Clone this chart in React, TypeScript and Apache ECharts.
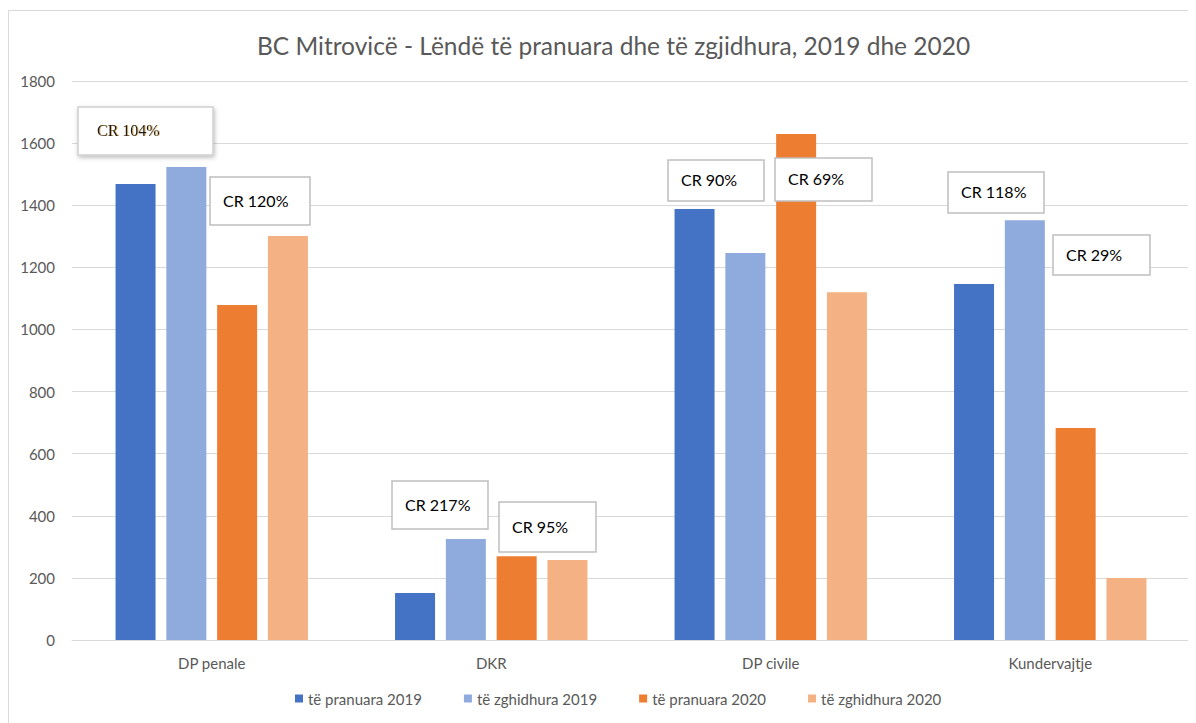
import React, { useEffect, useRef } from "react";
import * as echarts from "echarts";

const categories = ["DP penale", "DKR", "DP civile", "Kundervajtje"];
const seriesNames = ["të pranuara 2019", "të zghidhura 2019", "të pranuara 2020", "të zghidhura 2020"];
const pranuara2019 = [1468, 151, 1388, 1146];
const zgjidhura2019 = [1523, 325, 1246, 1352];
const pranuara2020 = [1079, 270, 1629, 683];
const zgjidhura2020 = [1301, 258, 1120, 200];
const colors = ["#4472C4", "#8FAADC", "#ED7D31", "#F4B183"];
const yTicks = { min: 0, max: 1800, interval: 200 };

// annotation boxes: [text, x, y, w, h] (page coordinates)
const crLabels: [string, number, number, number, number][] = [
  ["CR 120%", 210, 177, 100, 48],
  ["CR 217%", 392, 481, 96, 48],
  ["CR 95%", 499, 502, 97, 50],
  ["CR 90%", 668, 160, 96, 41],
  ["CR 69%", 775, 158, 97, 43],
  ["CR 118%", 948, 172, 96, 41],
  ["CR 29%", 1053, 235, 97, 40],
];

export default function App() {
  const ref = useRef<HTMLDivElement>(null);
  useEffect(() => {
    if (!ref.current) return;
    const chart = echarts.init(ref.current, undefined, { renderer: "svg" });
    const font = "Lato, 'Open Sans', sans-serif";
    const allData = [pranuara2019, zgjidhura2019, pranuara2020, zgjidhura2020];
    const off = 8;
    const graphics: any[] = [
      {
        type: "rect",
        shape: { x: 0.5, y: 2.5, width: 1200, height: 800 },
        style: { fill: "none", stroke: "#d9d9d9", lineWidth: 1 },
        silent: true,
        z: -1,
      },
      {
        type: "rect",
        shape: { x: 78 - off, y: 107 - off, width: 135, height: 48 },
        style: {
          fill: "#ffffff",
          stroke: "#d0d0d0",
          lineWidth: 1.5,
          shadowBlur: 4,
          shadowColor: "rgba(0,0,0,0.25)",
          shadowOffsetX: 1,
          shadowOffsetY: 2,
        },
        z: 10,
      },
      {
        type: "text",
        x: 97 - off,
        y: 130 - off,
        style: {
          text: "CR 104%",
          fill: "#1a1a1a",
          font: "16px 'Liberation Serif', serif",
          verticalAlign: "middle",
          textShadowColor: "rgba(200,140,40,0.6)",
          textShadowBlur: 1,
          textShadowOffsetX: 1,
        },
        z: 11,
      },
    ];
    crLabels.forEach(([t, x, y, w, h]) => {
      graphics.push({
        type: "rect",
        shape: { x: x - off, y: y - off, width: w, height: h },
        style: { fill: "#ffffff", stroke: "#bfbfbf", lineWidth: 1.5 },
        z: 10,
      });
      graphics.push({
        type: "text",
        x: x - off + 13,
        y: y - off + h / 2 - 1,
        style: {
          text: t,
          fill: "#000000",
          font: `16px ${font}`,
          verticalAlign: "middle",
        },
        z: 11,
      });
    });

    chart.setOption({
      animation: false,
      title: {
        text: "BC Mitrovicë - Lëndë të pranuara dhe të zgjidhura, 2019 dhe 2020",
        left: 244,
        top: 20,
        textStyle: { fontFamily: font, fontSize: 24.5, fontWeight: "normal", color: "#595959" },
      },
      legend: {
        bottom: 12,
        left: 282,
        itemWidth: 8,
        itemHeight: 8,
        itemGap: 42,
        icon: "rect",
        textStyle: { fontFamily: font, fontSize: 15, color: "#595959" },
        data: seriesNames,
      },
      grid: { left: 64, right: 6, top: 73, bottom: 83, containLabel: false },
      xAxis: {
        type: "category",
        data: categories,
        axisLine: { lineStyle: { color: "#d9d9d9", width: 1 } },
        axisTick: { show: false },
        axisLabel: { color: "#595959", fontFamily: font, fontSize: 15, margin: 15 },
      },
      yAxis: {
        type: "value",
        min: yTicks.min,
        max: yTicks.max,
        interval: yTicks.interval,
        axisLine: { show: false },
        axisTick: { show: false },
        axisLabel: {
          color: "#595959",
          fontFamily: font,
          fontSize: 15,
          margin: 17,
          formatter: (v: number) => String(v),
        },
        splitLine: { lineStyle: { color: "#d9d9d9", width: 1 } },
      },
      series: allData.map((d, i) => ({
        name: seriesNames[i],
        type: "bar",
        data: d,
        barWidth: 40,
        barGap: "27%",
        itemStyle: { color: colors[i] },
      })),
      graphic: graphics,
    });
    return () => chart.dispose();
  }, []);
  return <div ref={ref} style={{ width: 1188, height: 715 }} />;
}
